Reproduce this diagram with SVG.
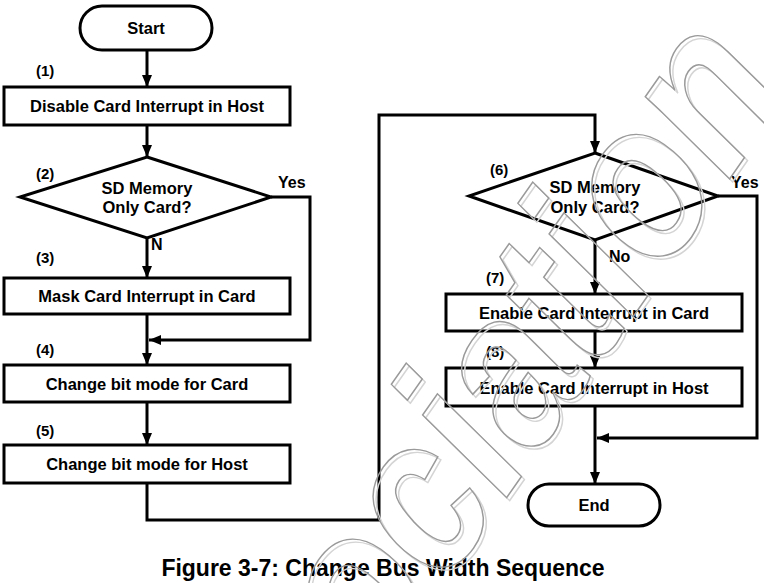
<svg xmlns="http://www.w3.org/2000/svg" width="764" height="583" viewBox="0 0 764 583">
<style>
.s{fill:#fff;stroke:#000;stroke-width:3}
.t{font-family:"Liberation Sans",Arial,sans-serif;font-weight:bold;font-size:16.5px;fill:#000;text-anchor:middle}
.n{font-family:"Liberation Sans",Arial,sans-serif;font-weight:bold;font-size:15px;fill:#000}
.y{font-family:"Liberation Sans",Arial,sans-serif;font-weight:bold;font-size:16px;fill:#000}
.c{fill:none;stroke:#000;stroke-width:3}
.wm{font-family:"Liberation Sans",Arial,sans-serif;font-weight:bold;font-style:italic;font-size:220px;fill:none;stroke-width:1.5}
</style>
<defs>
<marker id="ah" markerUnits="userSpaceOnUse" viewBox="0 0 12 10" markerWidth="12" markerHeight="10" refX="12" refY="5" orient="auto">
<path d="M0,0 L12,5 L0,10 z" fill="#000"/>
</marker>
</defs>
<rect width="764" height="583" fill="#fff"/>
<g id="connectors">
<path class="c" d="M147,50 V87" marker-end="url(#ah)"/>
<path class="c" d="M147,125 V157" marker-end="url(#ah)"/>
<path class="c" d="M147,238 V278" marker-end="url(#ah)"/>
<path class="c" d="M271,197 H310 V340 H149" marker-end="url(#ah)"/>
<path class="c" d="M147,314 V365" marker-end="url(#ah)"/>
<path class="c" d="M147,402 V445" marker-end="url(#ah)"/>
<path class="c" d="M147,483 V520 H379 V115 H595 V153" marker-end="url(#ah)"/>
<path class="c" d="M595,240 V294" marker-end="url(#ah)"/>
<path class="c" d="M718,196 H757 V438 H597" marker-end="url(#ah)"/>
<path class="c" d="M595,331 V368" marker-end="url(#ah)"/>
<path class="c" d="M595,406 V484" marker-end="url(#ah)"/>
<text class="y" x="278" y="188">Yes</text>
<text class="y" x="151" y="250">N</text>
<text class="y" x="731" y="188">Yes</text>
<text class="y" x="609" y="262">No</text>
</g>
<g id="start"><rect class="s" x="80" y="6" width="132" height="44" rx="22"/><text class="t" x="146" y="34">Start</text></g>
<g id="step1"><text class="n" x="36" y="76">(1)</text><rect class="s" x="4" y="87" width="286" height="38"/><text class="t" x="147" y="112">Disable Card Interrupt in Host</text></g>
<g id="step2"><text class="n" x="36" y="179">(2)</text><path class="s" d="M147,157 L271,197 L147,238 L20,197 Z"/><text class="t" x="147" y="194">SD Memory</text><text class="t" x="147" y="213">Only Card?</text></g>
<g id="step3"><text class="n" x="36" y="263">(3)</text><rect class="s" x="4" y="278" width="286" height="36"/><text class="t" x="147" y="302">Mask Card Interrupt in Card</text></g>
<g id="step4"><text class="n" x="36" y="355">(4)</text><rect class="s" x="4" y="365" width="286" height="37"/><text class="t" x="147" y="390">Change bit mode for Card</text></g>
<g id="step5"><text class="n" x="36" y="436">(5)</text><rect class="s" x="4" y="445" width="286" height="38"/><text class="t" x="147" y="470">Change bit mode for Host</text></g>
<g id="step6"><text class="n" x="490" y="175">(6)</text><path class="s" d="M595,153 L718,196 L595,240 L469,196 Z"/><text class="t" x="595" y="193">SD Memory</text><text class="t" x="595" y="213">Only Card?</text></g>
<g id="step7"><text class="n" x="486" y="283">(7)</text><rect class="s" x="446" y="294" width="296" height="37"/><text class="t" x="594" y="319">Enable Card Interrupt in Card</text></g>
<g id="step8"><text class="n" x="486" y="357">(8)</text><rect class="s" x="446" y="368" width="296" height="38"/><text class="t" x="594" y="394">Enable Card Interrupt in Host</text></g>
<g id="end"><rect class="s" x="528" y="484" width="132" height="42" rx="21"/><text class="t" x="594" y="511">End</text></g>
<text x="383" y="576" style="font-family:'Liberation Sans',Arial,sans-serif;font-weight:bold;font-size:23px;text-anchor:middle">Figure 3-7: Change Bus Width Sequence</text>
<g id="watermark">
<text class="wm" stroke="#d4d4d4" stroke-width="3" transform="translate(381,684) rotate(-55) scale(0.86,1)">ociation</text>
<text class="wm" stroke="#9a9a9a" transform="translate(378,681) rotate(-55) scale(0.86,1)">ociation</text>
</g>
</svg>
